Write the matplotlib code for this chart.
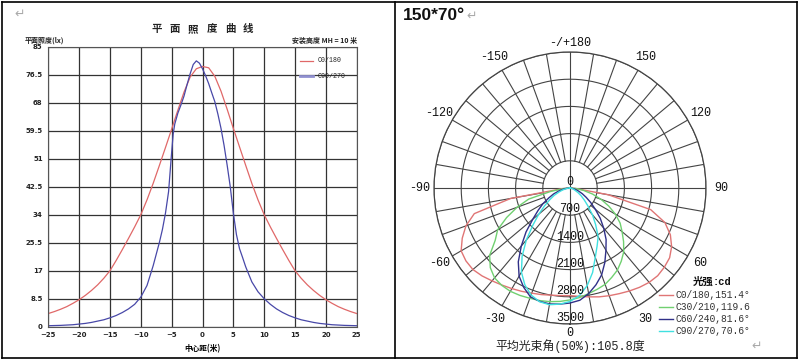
import numpy as np
import matplotlib
matplotlib.use("Agg")
import matplotlib.pyplot as plt
from matplotlib.lines import Line2D

W, H = 800, 362

# ---- left chart: plane illuminance (lx) vs distance from centre (m) ----
red_x = list(range(-25, 26))
red_lx = [4.0, 4.6, 5.3, 6.1, 7.1, 8.2, 9.5, 11.0, 12.7, 14.7,
          17.0, 20.1, 23.4, 26.8, 30.3, 34.0, 38.5, 43.5, 48.9, 54.4,
          60.0, 65.7, 71.2, 75.8, 78.3,
          79.0,
          78.6, 76.0, 71.5, 66.0, 60.2, 54.6, 49.0, 43.5, 38.5, 34.0,
          30.3, 26.8, 23.4, 20.1, 17.0, 14.7, 12.7, 11.0, 9.5, 8.2,
          7.1, 6.1, 5.3, 4.6, 4.0]

blue_x = [-25, -24, -23, -22, -21, -20, -19, -18, -17, -16, -15, -14, -13, -12, -11, -10, -9, -8, -7,
          -6.5, -6, -5.5, -5, -4.75, -4.5, -4, -3.5, -3, -2.5, -2, -1.5, -1, -0.5, 0, 0.5, 1, 1.5, 2,
          2.5, 3, 3.5, 4, 4.5, 5, 5.5, 6, 6.5, 7,
          8, 9, 10, 11, 12, 13, 14, 15, 16, 17, 18, 19, 20, 21, 22, 23, 24, 25]
blue_lx = [0.3, 0.35, 0.4, 0.5, 0.6, 0.8, 1.0, 1.3, 1.7, 2.1, 2.7, 3.4, 4.3, 5.4, 6.8, 9.0, 12.5, 18.5, 25.5,
           29.5, 34.5, 41.0, 53.0, 58.5, 61.5, 64.8, 67.3, 70.0, 73.5, 76.8, 79.6, 80.7, 80.0, 78.3, 76.2, 73.8,
           71.0, 68.3,
           64.5, 60.2, 55.0, 49.0, 42.5, 34.5, 28.0, 23.7, 21.0, 18.2,
           13.6, 10.6, 8.5, 6.8, 5.4, 4.3, 3.4, 2.7, 2.1, 1.7, 1.3, 1.0, 0.8, 0.6, 0.5, 0.4, 0.35, 0.3]

x_ticks = [-25, -20, -15, -10, -5, 0, 5, 10, 15, 20, 25]
y_ticks = [0, 8.5, 17, 25.5, 34, 42.5, 51, 59.5, 68, 76.5, 85]
y_tick_labels = ["0", "8.5", "17", "25.5", "34", "42.5", "51", "59.5", "68", "76.5", "85"]
left_series = ["C0/180", "C90/270"]
left_title = "平面照度曲线"

# ---- right chart: luminous intensity (cd), polar ----
angles = list(range(-90, 95, 5))
c0_cd = [0, 200, 1550, 2550, 2850, 3060, 3235, 3270, 3263, 3200, 3120, 3050, 2990, 2935, 2880, 2840, 2800, 2780,
         2770,
         2800, 2845, 2900, 2950, 3000, 3060, 3120, 3170, 3192, 3170, 3130, 3020, 2850, 2600, 2150, 1000, 150, 0]
c30_cd = [0, 150, 500, 1100, 1450, 1800, 2150, 2350, 2700, 2900, 3020, 3060, 3070, 3050, 3020, 3000, 2970, 2930,
          2880,
          2830, 2760, 2700, 2640, 2540, 2440, 2300, 2150, 1950, 1750, 1575, 1350, 1100, 850, 600, 350, 150, 0]
c60_cd = [0, 80, 180, 300, 450, 600, 800, 1000, 1250, 1600, 1950, 2320, 2620, 2820, 2980, 3020, 3030, 3000,
          2960,
          2900, 2760, 2580, 2380, 2120, 1850, 1620, 1350, 1100, 850, 650, 480, 350, 240, 150, 80, 30, 0]
c90_cd = [0, 50, 100, 200, 300, 450, 600, 800, 1050, 1350, 1750, 2150, 2500, 2750, 2930, 3030, 3050, 3000,
          2920,
          2780, 2550, 2250, 1900, 1650, 1450, 1150, 900, 650, 480, 350, 240, 150, 100, 60, 30, 10, 0]
polar_labels = ["C0/180,151.4°", "C30/210,119.6", "C60/240,81.6°", "C90/270,70.6°"]
polar_colors = ["#e07575", "#70d070", "#303088", "#40e0e0"]
rings = [700, 1400, 2100, 2800, 3500]
angle_labels = {180: "-/+180", -150: "-150", 150: "150", -120: "-120", 120: "120",
                -90: "-90", 90: "90", -60: "-60", 60: "60", -30: "-30", 30: "30", 0: "0"}

cjk = ["Noto Sans CJK SC", "DejaVu Sans"]
mono_cjk = ["Liberation Mono", "Noto Sans CJK SC"]

fig = plt.figure(figsize=(8, 3.62), dpi=100)


def px(x, y):
    return x / W, 1 - y / H


# panel frames
for (x0, y0, x1, y1) in [(2, 2, 797, 2), (2, 358, 797, 358), (2, 2, 2, 358), (797, 2, 797, 358), (395, 2, 395, 358)]:
    a, b = px(x0, y0)
    c, d = px(x1, y1)
    fig.add_artist(Line2D([a, c], [b, d], color="black", lw=1.2))

# left chart
ax = fig.add_axes([48.3 / W, 1 - 326.7 / H, (356.7 - 48.3) / W, (326.7 - 46.7) / H])
ax.plot(red_x, red_lx, color="#e06868", lw=0.9)
ax.plot(blue_x, blue_lx, color="#4848a8", lw=0.9)
ax.set_xlim(-25, 25)
ax.set_ylim(0, 85)
ax.set_xticks(x_ticks)
ax.set_yticks(y_ticks)
ax.set_yticklabels(y_tick_labels)
ax.grid(True, color="#333333", lw=0.9)
ax.tick_params(length=0, labelsize=5, pad=4)
for lab in ax.get_xticklabels() + ax.get_yticklabels():
    lab.set_fontweight("bold")
    lab.set_color("#222222")
for s in ax.spines.values():
    s.set_color("#555555")
    s.set_linewidth(0.8)
ax.set_xlabel("中心距(米)", family=cjk, fontsize=5.5, fontweight="bold", labelpad=4)

# legend inside the left chart
for i, (name, col, lw) in enumerate(zip(left_series, ["#e06868", "#9090d0"], [0.9, 2.0])):
    yy = 61 + i * 15
    a, b = px(300, yy)
    c, _ = px(313, yy)
    fig.add_artist(Line2D([a, c], [b, b], color=col, lw=lw))
    fig.text(*px(318, yy), name, fontsize=4.8, family="Liberation Mono", va="center", color="#222222")

# spaced-out title, one character at a time
for i, ch in enumerate(left_title):
    fig.text(*px(156.7 + i * 18.3, 29), ch, family=cjk, fontsize=7.5, fontweight="bold",
             ha="center", va="center", color="#222222")
fig.text(*px(25, 40), "平面照度(lx)", family=cjk, fontsize=5, fontweight="bold", va="center", color="#222222")
fig.text(*px(357, 40), "安装高度 MH = 10 米", family=cjk, fontsize=5, fontweight="bold",
         ha="right", va="center", color="#222222")
fig.text(*px(20, 14), "↵", fontsize=9, color="#aaaaaa", ha="center", va="center")

# right chart (polar)
R = 136
pax = fig.add_axes([(570 - R) / W, 1 - (188 + R) / H, 2 * R / W, 2 * R / H], projection="polar")
pax.set_theta_zero_location("S")
pax.set_theta_direction(1)
pax.set_ylim(0, 3500)
pax.set_xticks([])
pax.set_yticks([])
pax.grid(False)
pax.spines["polar"].set_color("#444444")
pax.spines["polar"].set_linewidth(0.9)
pax.patch.set_alpha(0)

full = np.linspace(0, 2 * np.pi, 361)
for r in rings:
    pax.plot(full, np.full_like(full, r), color="#444444", lw=0.8)
for a in range(0, 360, 10):
    th = np.deg2rad(a)
    start = 0 if a % 90 == 0 else 700
    pax.plot([th, th], [start, 3500], color="#444444", lw=0.8)

th_data = np.deg2rad(angles)
for vals, col in zip([c0_cd, c30_cd, c60_cd, c90_cd], polar_colors):
    pax.plot(th_data, vals, color=col, lw=1.0)

for a, txt in angle_labels.items():
    rr = 3740 if a in (0, 180) else 3880
    pax.text(np.deg2rad(a), rr, txt, family="Liberation Mono", fontsize=8.5, ha="center", va="center",
             clip_on=False, color="#111111")
for r in rings:
    pax.text(0, r - 150, str(r), family="Liberation Mono", fontsize=8.5, ha="center", va="center",
             color="#111111")
fig.text(*px(570, 182), "0", family="Liberation Mono", fontsize=8.5, ha="center", va="center", color="#111111")

# polar legend
fig.text(*px(693, 282), "光强", family=cjk, fontsize=7.5, fontweight="bold", va="center", color="#111111")
fig.text(*px(713, 282), ":cd", family="Liberation Mono", fontsize=7.5, fontweight="bold", va="center",
         color="#111111")
for i, (lab, col) in enumerate(zip(polar_labels, polar_colors)):
    yy = 295 + i * 11.9
    a, b = px(659, yy)
    c, _ = px(673, yy)
    fig.add_artist(Line2D([a, c], [b, b], color=col, lw=1.0))
    fig.text(*px(675, yy), lab, family="Liberation Mono", fontsize=6.9, va="center", color="#333333")

fig.text(*px(403, 15), "150*70°", family="Liberation Sans", fontsize=12.5, fontweight="bold",
         va="center", color="#111111")
fig.text(*px(472, 16), "↵", fontsize=9, color="#aaaaaa", ha="center", va="center")
fig.text(*px(570, 346), "平均光束角(50%):105.8度", family=mono_cjk, fontsize=8.6, ha="center", va="center",
         color="#222222")
fig.text(*px(757, 346), "↵", fontsize=9, color="#aaaaaa", ha="center", va="center")

fig.savefig("out.png", dpi=100)
